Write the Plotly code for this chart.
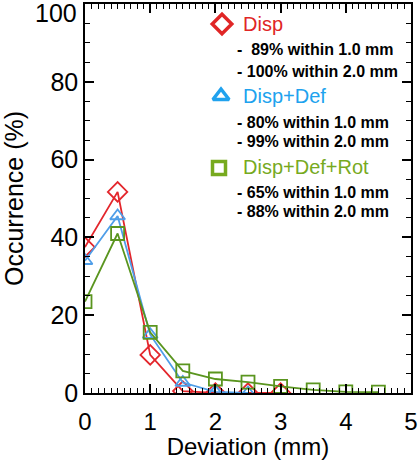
import plotly.graph_objects as go

# ---- data ----
x_disp = [0.0, 0.5, 1.0, 1.5, 2.0, 2.5, 3.0]
y_disp = [37.5, 51.7, 9.8, 0.5, 0.0, 0.0, 0.0]

x_def = [0.0, 0.5, 1.0, 1.5, 2.0, 2.5]
y_def = [34.0, 45.5, 15.0, 2.7, 0.3, 0.0]

x_rot = [0.0, 0.5, 1.0, 1.5, 2.0, 2.5, 3.0, 3.5, 4.0, 4.5]
y_rot = [23.5, 41.0, 15.6, 5.7, 3.6, 2.8, 1.7, 0.8, 0.3, 0.2]

series_names = ["Disp", "Disp+Def", "Disp+Def+Rot"]
series_notes = [["-  89% within 1.0 mm", "- 100% within 2.0 mm"],
                ["- 80% within 1.0 mm", "- 99% within 2.0 mm"],
                ["- 65% within 1.0 mm", "- 88% within 2.0 mm"]]

x_ticks = [0, 1, 2, 3, 4, 5]
y_ticks = [0, 20, 40, 60, 80, 100]

# ---- styles ----
RED = "#e3262c"
BLUE = "#4f9ee8"
GREEN = "#5a951f"
LEG_RED = "#e02626"
LEG_BLUE = "#20a2ee"
LEG_GREEN = "#77aa1e"
FONT = "Liberation Sans, Arial, sans-serif"

# plot area in px
L, R, T, B = 85, 411, 4, 393
W, H = 420, 460

def px(xp):
    return (xp - L) / (R - L)

def py(yp):
    return (B - yp) / (B - T)

fig = go.Figure()

fig.add_trace(go.Scatter(x=x_disp, y=y_disp, mode="lines+markers",
                         line=dict(color=RED, width=1.8),
                         marker=dict(symbol="diamond-open", size=15, color=RED, line=dict(width=1.8))))
fig.add_trace(go.Scatter(x=x_def, y=y_def, mode="lines+markers",
                         line=dict(color=BLUE, width=1.8),
                         marker=dict(symbol="triangle-up-open", size=13, color=BLUE, line=dict(width=1.8))))
fig.add_trace(go.Scatter(x=x_rot, y=y_rot, mode="lines+markers",
                         line=dict(color=GREEN, width=1.8),
                         marker=dict(symbol="square-open", size=13, color=GREEN, line=dict(width=1.8))))

# legend key symbols on an overlay axis (0..1 in plot area)
key_x = [px(222), px(221), px(219)]
key_y = [py(24), py(96), py(168)]
key_sym = ["diamond-open", "triangle-up-open", "square-open"]
key_col = [LEG_RED, LEG_BLUE, LEG_GREEN]
key_size = [15, 14, 13]
for kx, ky, s, c, sz in zip(key_x, key_y, key_sym, key_col, key_size):
    fig.add_trace(go.Scatter(x=[kx], y=[ky], xaxis="x2", yaxis="y2", mode="markers",
                             marker=dict(symbol=s, size=sz, color=c, line=dict(width=3.5, color=c)),
                             cliponaxis=False))

annotations = []
label_y = [24, 96, 167]
note_y = [[50, 71], [122, 142], [192, 212]]
for name, notes, ly, ny, c in zip(series_names, series_notes, label_y, note_y, key_col):
    annotations.append(dict(x=px(241), y=py(ly), xref="paper", yref="paper", text=name,
                            showarrow=False, xanchor="left", yanchor="middle",
                            font=dict(family=FONT, size=20, color=c)))
    for t, yy in zip(notes, ny):
        annotations.append(dict(x=px(235), y=py(yy), xref="paper", yref="paper",
                                text="<b>" + t.replace("  ", "&nbsp; ") + "</b>",
                                showarrow=False, xanchor="left", yanchor="middle",
                                font=dict(family=FONT, size=16, color="black")))

# top y tick label is drawn just below its tick (as in the reference)
y_ticktext = [str(v) for v in y_ticks[:-1]] + [""]
annotations.append(dict(x=0, y=py(13), xref="paper", yref="paper", text=str(y_ticks[-1]),
                        showarrow=False, xanchor="right", yanchor="middle", xshift=-6,
                        font=dict(family=FONT, size=25, color="black")))

axis_common = dict(showgrid=False, zeroline=False, showline=True, linecolor="black", linewidth=1.5,
                   mirror="allticks", ticks="inside", tickcolor="black", tickwidth=1.5,
                   automargin=False, ticklabeloverflow="allow")

fig.update_layout(
    width=W, height=H,
    margin=dict(l=L, r=W - R, t=T, b=H - B, pad=0),
    paper_bgcolor="white", plot_bgcolor="white",
    showlegend=False,
    annotations=annotations,
    xaxis=dict(range=[0, 5], tickvals=x_ticks, ticklen=9, ticklabelstandoff=6,
               tickfont=dict(family=FONT, size=24, color="black"),
               minor=dict(dtick=0.1, ticks="inside", ticklen=5, tickcolor="black", tickwidth=1.2),
               title=dict(text="Deviation (mm)", font=dict(family=FONT, size=24, color="black"), standoff=3),
               **axis_common),
    yaxis=dict(range=[0, 100], tickvals=y_ticks, ticktext=y_ticktext, ticklen=9,
               tickfont=dict(family=FONT, size=25, color="black"),
               minor=dict(dtick=5, ticks="inside", ticklen=5, tickcolor="black", tickwidth=1.2),
               title=dict(text="Occurrence (%)", font=dict(family=FONT, size=25, color="black"), standoff=24),
               **axis_common),
    xaxis2=dict(range=[0, 1], overlaying="x", visible=False),
    yaxis2=dict(range=[0, 1], overlaying="y", visible=False),
)

fig.write_html("out.html", config={"displayModeBar": False},
               post_script="document.body.style.margin='0';")
